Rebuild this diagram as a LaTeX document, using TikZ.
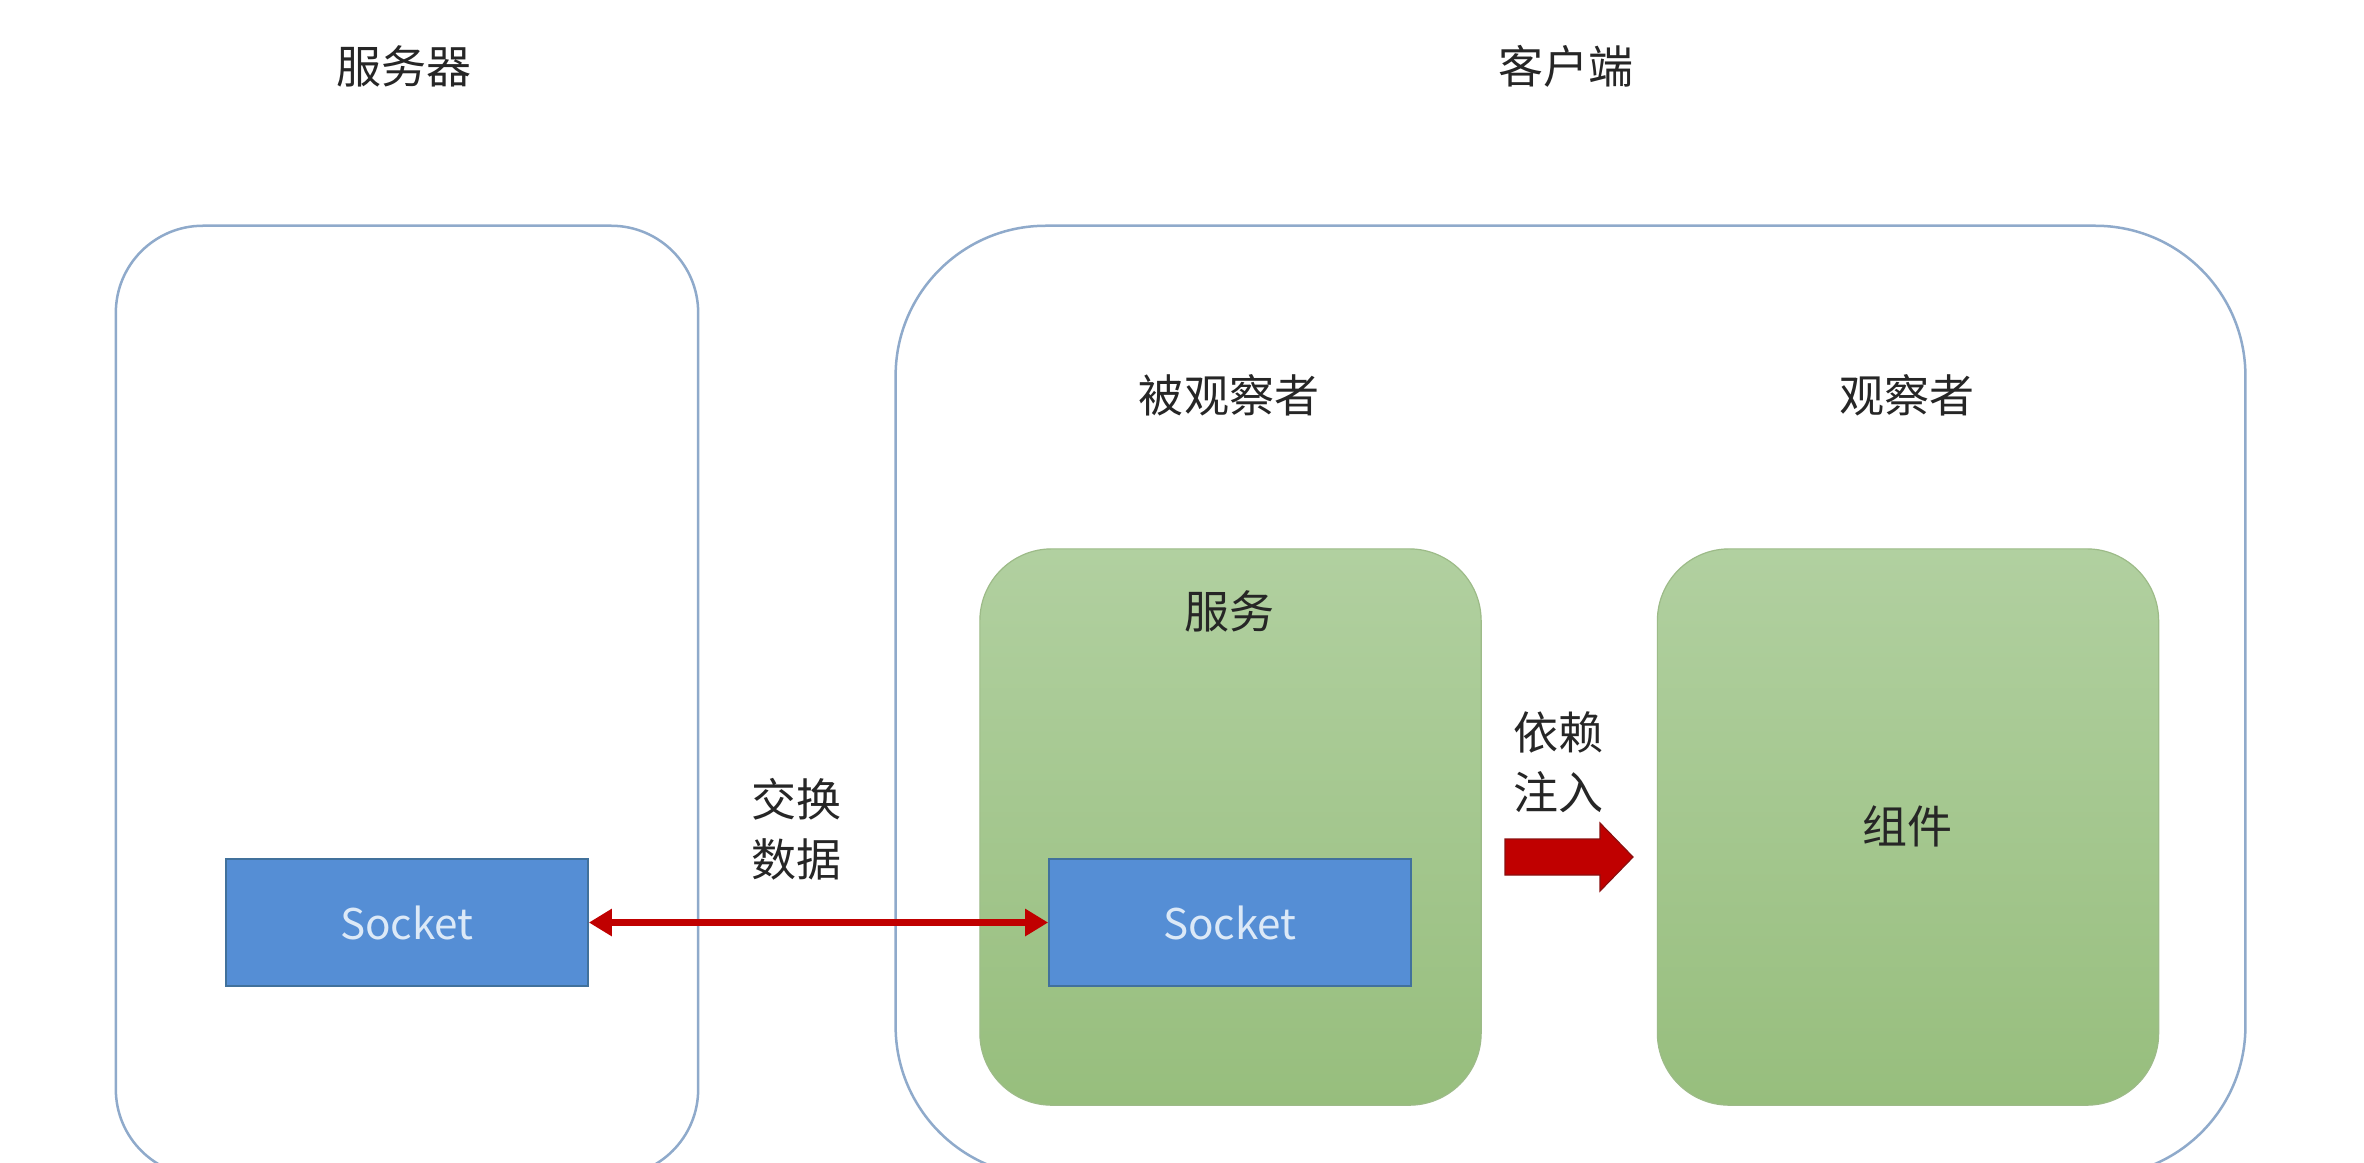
\documentclass[tikz,border=0pt]{standalone}
\usepackage{fontspec}
\setmainfont{Noto Sans CJK SC}
\usetikzlibrary{arrows.meta}
\definecolor{framecol}{HTML}{8FAACB}
\definecolor{greentop}{HTML}{B1D0A0}
\definecolor{greenbot}{HTML}{97BE7D}
\definecolor{greenline}{HTML}{9DBB88}
\definecolor{sockfill}{HTML}{558ED5}
\definecolor{sockline}{HTML}{41719C}
\definecolor{socktext}{HTML}{DCE9F7}
\definecolor{arrowred}{HTML}{C00000}
\definecolor{arrowdark}{HTML}{8B1010}
\definecolor{txt}{HTML}{262626}
\tikzset{
  outerbox/.style={draw=framecol, line width=0.025cm, rectangle, fill=none},
  greenbox/.style={draw=greenline, line width=0.012cm, rectangle, rounded corners=0.72cm,
    top color=greentop, bottom color=greenbot, minimum width=5.01cm, minimum height=5.56cm},
  sockbox/.style={draw=sockline, line width=0.015cm, fill=sockfill, rectangle,
    minimum width=3.62cm, minimum height=1.27cm, text=socktext,
    font=\fontsize{12pt}{14pt}\selectfont},
  lbl/.style={text=txt, font=\fontsize{12.8pt}{17pt}\selectfont, align=center, inner sep=0pt},
  dbl/.style={draw=arrowred, line width=0.065cm, {Triangle[length=0.23cm,width=0.26cm]}-{Triangle[length=0.23cm,width=0.26cm]}},
  bigarrow/.style={fill=arrowred, draw=arrowdark, line width=0.012cm, line join=miter}
}
\begin{document}
\begin{tikzpicture}[x=0.01cm,y=-0.01cm]
\useasboundingbox (0,0) rectangle (2364,1162);
\clip (0,0) rectangle (2364,1162);
\fill[white] (0,0) rectangle (2364,1162);

% titles
\node[lbl] (tsrv) at (404,66) {服务器};
\node[lbl] (tcli) at (1566,66) {客户端};

% outer boxes
\node[outerbox, minimum width=5.82cm, minimum height=9.5cm, rounded corners=0.87cm] (srv) at (407,701) {};
\node[outerbox, minimum width=13.49cm, minimum height=9.5cm, rounded corners=1.5cm] (cli) at (1570.5,701) {};

% headings inside client
\node[lbl] (tobs) at (1229,395) {被观察者};
\node[lbl] (tobr) at (1907,395) {观察者};

% green boxes
\node[greenbox] (svc) at (1230.5,827) {};
\node[greenbox] (cmp) at (1908,827) {};
\node[lbl] (tsvc) at (1229,611) {服务};
\node[lbl] (tcmp) at (1907,826) {组件};

% sockets
\node[sockbox] (sockL) at (407,922.5) {Socket};
\node[sockbox] (sockR) at (1230,922.5) {Socket};

% exchange arrow
\draw[dbl] (sockL.east) -- (sockR.west);
\node[lbl] (xchg) at (796,829) {交换\\数据};

% dependency injection
\node[lbl] (inj) at (1558,762) {依赖\\注入};
\fill[bigarrow] (1505,839) -- (1600,839) -- (1600,823) -- (1633,857) -- (1600,891) -- (1600,875) -- (1505,875) -- cycle;
\end{tikzpicture}
\end{document}
